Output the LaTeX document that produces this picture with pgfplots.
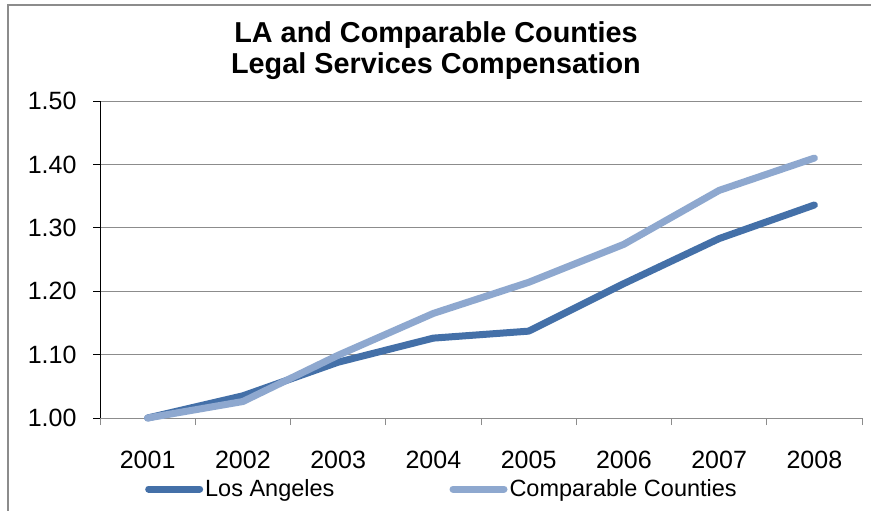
\documentclass[border=0pt]{standalone}
\usepackage{pgfplots}
\pgfplotsset{compat=1.18}
\usepackage{fontspec}
\setmainfont{Liberation Sans}
\definecolor{la}{HTML}{4470A8}
\definecolor{cc}{HTML}{8EA8CF}
\definecolor{gridc}{HTML}{8C8C8C}
\begin{document}
\begin{tikzpicture}
\useasboundingbox (0,0) rectangle (871pt,-511pt);
\fill[white] (0,0) rectangle (871pt,-511pt);
\draw[gridc, line width=1.5pt] (8pt,-530pt) -- (8pt,-5pt) -- (890pt,-5pt);
\node[font=\fontsize{28.8}{31}\selectfont\bfseries, anchor=base, inner sep=0pt] at (436pt,-43pt) {LA and Comparable Counties};
\node[font=\fontsize{28.8}{31}\selectfont\bfseries, anchor=base, inner sep=0pt] at (436pt,-74pt) {Legal Services Compensation};
\begin{axis}[
 at={(100pt,-418pt)}, anchor=south west,
 scale only axis, width=762pt, height=317pt,
 xmin=0.5, xmax=8.5, ymin=1, ymax=1.5,
 axis x line*=bottom, axis y line*=left,
 x axis line style={-, gridc, line width=1pt},
 y axis line style={-, black, line width=1pt},
 xtick={1,2,3,4,5,6,7,8},
 xticklabels={2001,2002,2003,2004,2005,2006,2007,2008},
 minor xtick={0.5,1.5,2.5,3.5,4.5,5.5,6.5,7.5,8.5},
 major x tick style={draw=none},
 minor x tick style={gridc, line width=1pt},
 ytick={1.0,1.1,1.2,1.3,1.4,1.5},
 y tick style={black, line width=1pt},
 tick align=outside,
 major tick length=7pt, minor tick length=7pt,
 ymajorgrids,
 major grid style={gridc, line width=1pt},
 /pgf/number format/assume math mode=true,
 yticklabel style={/pgf/number format/fixed, /pgf/number format/fixed zerofill, /pgf/number format/precision=2,
   font=\fontsize{25}{30}\selectfont, xshift=-13pt},
 xticklabel style={font=\fontsize{25}{30}\selectfont, anchor=base, yshift=-43pt},
 legend style={draw=none, fill=none, inner sep=0pt, at={(0.059,-0.224)}, anchor=west,
   font=\fontsize{23.5}{28}\selectfont,
   /tikz/every even column/.append style={column sep=113pt}},
 legend columns=2,
 legend image code/.code={\draw[#1, line cap=round] (3pt,0pt) -- (54pt,0pt);},
 clip=false,
]
\addplot[la, line width=7pt, line join=round, line cap=round] coordinates {
 (1,1.000) (2,1.035) (3,1.088) (4,1.126) (5,1.137) (6,1.212) (7,1.283) (8,1.336)};
\addlegendentry{Los Angeles}
\addplot[cc, line width=7pt, line join=round, line cap=round] coordinates {
 (1,1.000) (2,1.026) (3,1.099) (4,1.165) (5,1.214) (6,1.274) (7,1.359) (8,1.410)};
\addlegendentry{Comparable Counties}
\end{axis}
\end{tikzpicture}
\end{document}
